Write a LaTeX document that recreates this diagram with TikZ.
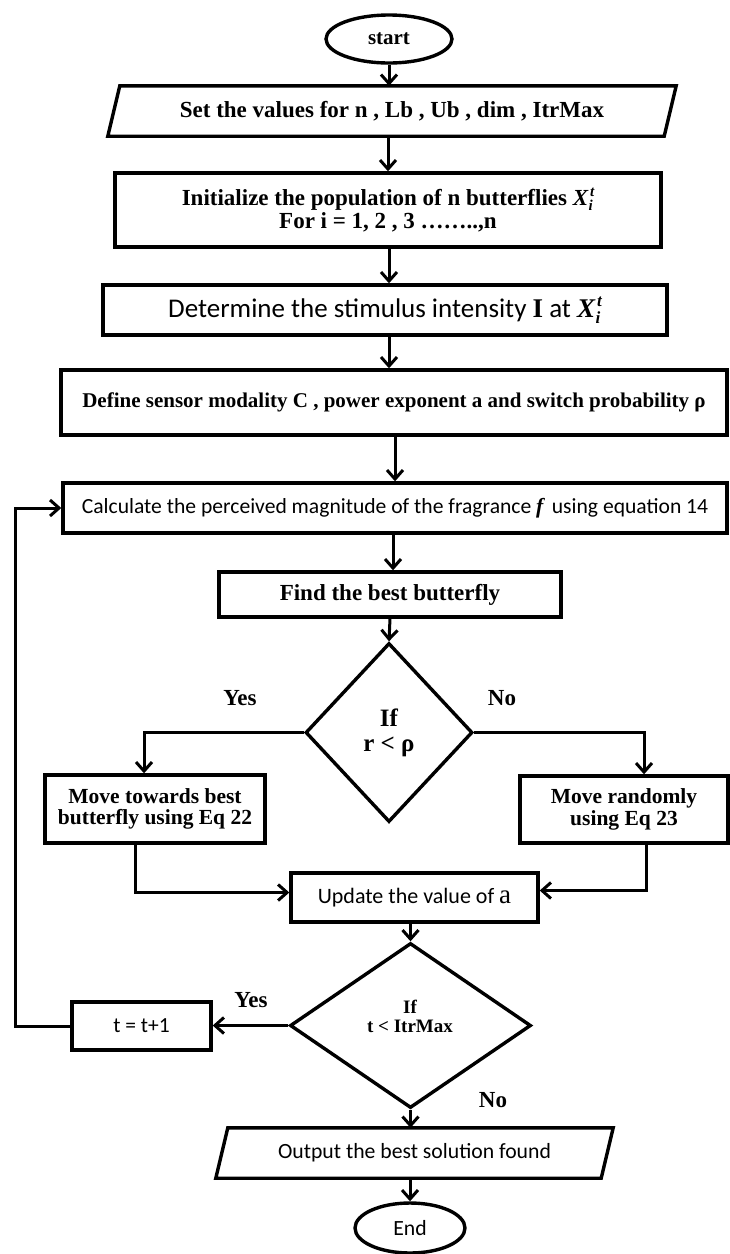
\documentclass[tikz,border=0pt]{standalone}
\usepackage{fontspec}
\usetikzlibrary{shapes.geometric,arrows.meta}
\newfontfamily\tnr{Liberation Serif}
\newfontfamily\calfont{Carlito}
\newcommand{\fsz}[2]{\fontsize{#1}{#2}\selectfont}
\newcommand{\Xit}[1]{{\tnr\bfseries\itshape X\kern0.5pt\raisebox{-0.2em}{\fsz{#1}{#1}i}\kern-0.12em\raisebox{0.42em}{\fsz{#1}{#1}t}}}
\tikzset{
  box/.style={draw, line width=3.4pt, rectangle, inner sep=0pt, align=center},
  term/.style={draw, line width=3.4pt, ellipse, inner sep=0pt},
  dec/.style={draw, line width=3.4pt, diamond, inner sep=0pt, aspect=1, align=center},
  io/.style={rectangle, inner sep=0pt, align=center},
  para/.style={line width=3.4pt, line join=miter},
  arr/.style={line width=3pt, -{Straight Barb[length=9pt,width=16pt,line width=3pt]}},
  serif/.style={font=\tnr\bfseries\fsz{#1}{#1}},
  sans/.style={font=\calfont\fsz{#1}{#1}},
  lbl/.style={font=\tnr\bfseries\fsz{23}{23}, inner sep=0pt}
}
\begin{document}
\begin{tikzpicture}[x=1pt,y=-1pt]
\useasboundingbox (0,0) rectangle (730,1254);
% nodes
\node[term, minimum width=126, minimum height=48, serif=21] (start) at (389,39) {start};
\node[io, minimum width=556, minimum height=50, serif=23] (set) at (392,111) {Set the values for n , Lb , Ub , dim , ItrMax};
\draw[para] ([xshift=6]set.north west) -- ([xshift=6]set.north east) -- ([xshift=-6]set.south east) -- ([xshift=-6]set.south west) -- cycle;
\node[box, minimum width=546, minimum height=74, serif=23] (init) at (388,210) {\fsz{23}{30}Initialize the population of n butterflies \Xit{15}\\For i = 1, 2 , 3 \dots\dots..,n};
\node[box, minimum width=564, minimum height=50, sans=27] (det) at (385,310) {Determine the stimulus intensity {\tnr\bfseries I} at \Xit{17}};
\node[box, minimum width=666, minimum height=65, serif=21] (def) at (394,402.5) {Define sensor modality C , power exponent a and switch probability ρ};
\node[box, minimum width=664, minimum height=50, sans=21.6] (calc) at (395,508) {Calculate the perceived magnitude of the fragrance {\tnr\bfseries\itshape f}\, using equation 14};
\node[box, minimum width=342, minimum height=45, serif=23] (find) at (390,594.5) {Find the best butterfly};
\node[dec, minimum width=167, minimum height=179, serif=25] (d1) at (389,732.5) {\fsz{25}{32}If\\r < ρ};
\node[box, minimum width=220, minimum height=68, serif=21.5] (ml) at (155,809) {\fsz{21.5}{25}Move towards best\\butterfly using Eq 22};
\node[box, minimum width=208, minimum height=67, serif=21.5] (mr) at (624,809.5) {\fsz{21.5}{25}Move randomly\\using Eq 23};
\node[box, minimum width=247, minimum height=49, sans=22] (upd) at (414.5,897.5) {Update the value of {\tnr\fsz{27}{27}a}};
\node[dec, minimum width=241, minimum height=165] (d2) at (410.5,1025.5) {};
\node[serif=19, align=center, inner sep=0pt] (d2t) at (410,1016) {\fsz{19}{23}If\\t < ItrMax};
\node[box, minimum width=139, minimum height=48, sans=21.5] (tb) at (141.5,1026) {t = t+1};
\node[io, minimum width=385, minimum height=50, sans=21.7] (out) at (414.5,1153) {Output the best solution found};
\draw[para] ([xshift=6]out.north west) -- ([xshift=6]out.north east) -- ([xshift=-6]out.south east) -- ([xshift=-6]out.south west) -- cycle;
\node[term, minimum width=110, minimum height=50, sans=21.7] (end) at (410,1228) {End};
% labels
\node[lbl] (yes1) at (240,698) {Yes};
\node[lbl] (no1) at (502,698) {No};
\node[lbl] (yes2) at (251,1000) {Yes};
\node[lbl] (no2) at (493,1100) {No};
\coordinate (lp) at (15,1026);
% connectors
\draw[arr] (start.south) -- (start.south |- set.north);
\draw[arr] (init.north |- set.south) -- (init.north);
\draw[arr] ([xshift=1]init.south) -- ([xshift=1]init.south |- det.north);
\draw[arr] ([xshift=4]det.south) -- ([xshift=4]det.south |- def.north);
\draw[arr] (calc.north |- def.south) -- (calc.north);
\draw[arr] ([xshift=3]find.north |- calc.south) -- ([xshift=3]find.north);
\draw[arr] (find.south) -- (d1.north);
\draw[arr] (d1.west) -| ([xshift=-11]ml.north);
\draw[arr] (d1.east) -| ([xshift=20]mr.north);
\draw[arr] ([xshift=-20]ml.south) |- ([yshift=5]upd.west);
\draw[arr] ([xshift=22]mr.south) |- ([yshift=7]upd.east);
\draw[arr] (d2.north |- upd.south) -- (d2.north);
\draw[arr] (d2.west) -- (d2.west -| tb.east);
\draw[arr] (tb.west) -- (lp) |- (calc.west);
\draw[arr] (d2.south) -- (d2.south |- out.north);
\draw[arr] (end.north |- out.south) -- (end.north);
\end{tikzpicture}
\end{document}
